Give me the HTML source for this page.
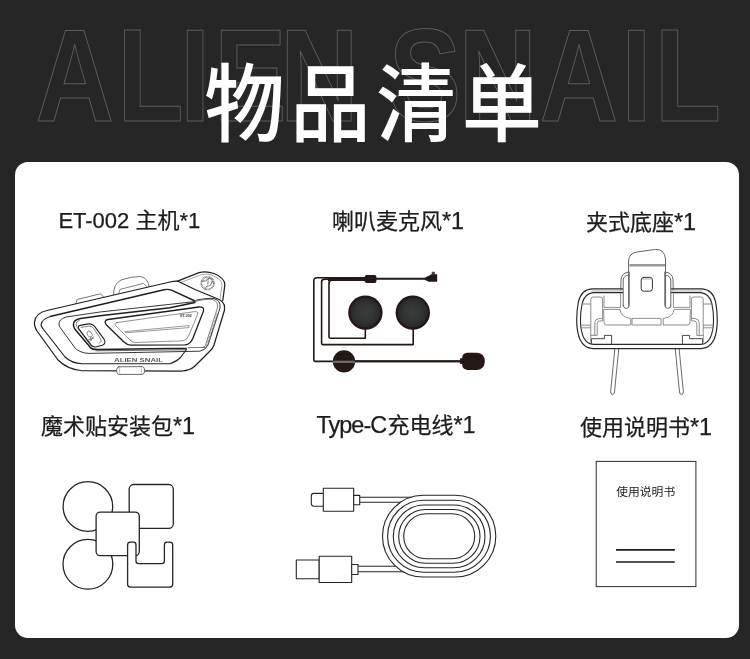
<!DOCTYPE html>
<html lang="zh-CN">
<head>
<meta charset="utf-8">
<title>物品清单</title>
<style>
html,body{margin:0;padding:0;background:#262626;}
body{width:750px;height:659px;overflow:hidden;position:relative;font-family:"Liberation Sans","Noto Sans CJK SC",sans-serif;}
#page{will-change:transform;position:absolute;left:0;top:0;width:750px;height:659px;background:#262626;overflow:hidden;}
#ghost{position:absolute;left:0;top:0;width:750px;height:160px;}
#ghost text{font-family:"Liberation Sans",sans-serif;font-weight:700;font-size:132.6px;fill:none;stroke:#5c5c5c;stroke-width:1.1;stroke-linejoin:round;}
h1{position:absolute;left:0;top:0;margin:0;width:750px;text-align:center;color:#fff;font-family:"Liberation Sans","Noto Sans CJK SC",sans-serif;font-weight:500;font-size:85.4px;line-height:100px;white-space:nowrap;}
#card{position:absolute;left:15px;top:162px;width:724px;height:476px;background:#fff;border-radius:13px;}
.lbl .n{font-size:23.4px;line-height:0;}
.lbl{position:absolute;margin:0;color:#1c1c1c;-webkit-text-stroke:0.25px #1c1c1c;font-size:22px;line-height:30px;white-space:nowrap;font-weight:400;}
#art{position:absolute;left:0;top:0;width:750px;height:659px;}
</style>
</head>
<body>
<div id="page">
  <svg id="ghost" viewBox="0 0 750 160" aria-hidden="true">
    <text transform="scale(0.82 1)" x="43.4 142.9 219.4 261.0 341.4 401.4 474.0 559.3 658.3 757.7 798.6" y="120.7">ALIEN SNAIL</text>
  </svg>
  <h1 style="top:56.4px;left:1.3px;letter-spacing:5.9px;transform:scaleX(0.94);transform-origin:375px 50px">物品清单</h1>
  <div id="card"></div>
  <p class="lbl" id="l1" style="left:58.4px;top:206px">ET-002 主机*1</p>
  <p class="lbl" id="l2" style="left:332px;top:206.5px">喇叭麦克风<span class="n">*1</span></p>
  <p class="lbl" id="l3" style="left:586px;top:208px">夹式底座<span class="n">*1</span></p>
  <p class="lbl" id="l4" style="left:41px;top:411.6px">魔术贴安装包<span class="n">*1</span></p>
  <p class="lbl" id="l5" style="left:316.5px;top:411px"><span class="n" style="letter-spacing:-0.95px;margin-right:1.3px">Type-C</span>充电线<span class="n">*1</span></p>
  <p class="lbl" id="l6" style="left:580px;top:413px">使用说明书<span class="n">*1</span></p>
  <svg id="art" viewBox="0 0 750 659">
    <g id="host" fill="none" stroke="#1f1f1f" stroke-width="1" stroke-linecap="round" stroke-linejoin="round">
    <!-- top tabs -->
    <path d="M75.8 303.6 L77.2 299.4 L100.6 293.8 L103.6 297" stroke="#555" stroke-width="0.8"/>
    <path d="M113.6 294.6 Q113.2 284 121 280 Q131 276.5 140.5 276.4 Q148.5 278.5 149 286.6" stroke="#666" stroke-width="0.9"/>
    <path d="M118.8 293.4 L120 289.4 L143.4 283.4 L147 286.8" stroke="#666" stroke-width="0.8"/>
    <!-- fin -->
    <path d="M177 281.3 L199 272.7 Q206 270.7 214 273.5 Q225 277.8 224.8 285.2 L222.8 300.5" stroke-width="1.25"/>
    <path d="M181 282.4 L201 274.7 Q206 273 212 275.2 Q222 279.2 222 285.4 L220 299.2" stroke="#666" stroke-width="0.6"/>
    <circle cx="207.6" cy="283.2" r="6.3" stroke="#6e6e6e" stroke-width="1.7" stroke-dasharray="0.9 0.55" stroke-linecap="butt"/>
    <path d="M201.6 281.6 L206.4 280.4 Q208.6 276.8 211.6 279.2 Q213.4 283.4 209.4 285.4 L207 286.4 Q205.4 287.6 205 289.4" stroke="#6e6e6e" stroke-width="1.5" stroke-dasharray="0.9 0.5" stroke-linecap="butt"/>
    <path d="M208.6 278 L207.6 284.6" stroke="#6e6e6e" stroke-width="1.3" stroke-dasharray="0.8 0.5" stroke-linecap="butt"/>
    <!-- outer outline -->
    <path d="M47 310.5 L170 282 Q175 281 178 281.3 L195 289.5 L218 299 Q224.5 302 224.5 307 L224.5 310 L214 345 Q212.5 349 210 351 L195 366 Q190 370.5 182 371 L81 370.5 Q67 369 58 360 L37 331 Q34 326 34.5 322 Q35.5 313 47 310.5 Z" stroke-width="1.25"/>
    <!-- second outline -->
    <path d="M51 316.3 L164 289.7 Q168 288.8 172 290.4 L195 301" stroke-width="1.4"/>
    <path d="M51 316.3 Q41.5 319 41 325 Q41.5 327 44 330 L65 357 Q72 363.5 82 363.7 L170 363.7 Q177 361 180.5 357.5 L186.5 349.5" stroke-width="1.15"/>
    <!-- third outline (thin) -->
    <path d="M195 301.6 L100 312 L66 317 Q58.5 319 59 325 Q59.5 327 62 330 L75 348 Q80 353 89 353.4 L200 351.2 Q205.5 350 208 345 L220 308 Q221 300.5 214 298.6 Q209 297.6 196 300.2" stroke="#2e2e2e" stroke-width="0.95"/>
    <path d="M196.4 301 Q208 298.6 212.6 299.6 Q218.6 301.2 217.4 308 L205.4 345.6 Q204.6 347.2 203 347.4" stroke="#444" stroke-width="0.7"/>
    <path d="M217.8 313.6 L207 346" stroke="#666" stroke-width="2.2" stroke-dasharray="0.6 0.8" stroke-linecap="butt"/>
    <!-- button housing (thick) -->
    <path d="M195 302.4 L170 307.8 L100 315.8 L80.6 318.4 Q73 319.8 73.4 325 Q73.6 327.2 75 329.2 L90.4 347.6 Q92.4 349.6 97 349.6 L170 348.4 L186 348.4" stroke-width="1.5"/>
    <path d="M79.4 320.4 Q75.8 321.4 76.2 324.6 Q76.6 326.6 78 328.6 L91.4 346.4" stroke="#333" stroke-width="0.6"/>
    <path d="M96 350.8 L186 349.8" stroke="#444" stroke-width="0.8"/>
    <path d="M188 347.6 L206 347.4" stroke="#444" stroke-width="0.7"/>
    <!-- mic button -->
    <path d="M80.2 325.4 L88.4 323.9 Q92.4 323.6 94.6 326.4 L104.2 339.4 Q106.4 343.4 102.4 345.2 L96.6 346.8 Q93.4 347.6 91 344.8 L79 329.2 Q77.2 326 80.2 325.4 Z" stroke-width="1.1"/>
    <path d="M81.2 327.4 L88.6 326.2 Q91.8 326 93.6 328.4 L100.6 338.8 Q102.2 341.6 99.6 343.2" stroke="#4a4a4a" stroke-width="0.7"/>
    <path d="M87.4 334.6 Q86.2 331.2 89 331 Q91.4 331.4 92.4 335.2 Q92 337.4 89.6 337 Z M90.4 337.4 L91.4 340.4 M88.4 339.8 L93.6 338 M89.6 341.4 L93.2 336.6" stroke="#5a5a5a" stroke-width="0.7"/>
    <!-- window -->
    <path d="M108 319.5 L199 307 Q204.4 306.6 203.5 311 L193 338 Q190.5 344.5 185 344.8 L131 345.2 Q127 345 124 342 L106 324.5 Q103.5 320.5 108 319.5 Z" stroke-width="1.3"/>
    <path d="M117 322.6 L194.6 311.6 Q198.6 311.4 197.6 314.2 L189 335 Q187 340.5 183 340.8 L135 342.5 Q132.5 342.5 130 340 L116 326 Q113.5 323 117 322.6 Z" stroke="#444" stroke-width="0.6"/>
    <path d="M125.2 331.6 L189 325.6 L189 327.6 L126 332.8 Z" stroke="#555" stroke-width="0.6"/>
    <!-- bottom tab -->
    <path d="M118.4 366.8 L142.6 366.6 Q144.6 367 144.6 370.4 Q144.6 374 142.6 374.4 L118.4 374.4 Q116.6 374 116.6 370.6 Q116.6 367.2 118.4 366.8 Z" fill="#fff" stroke="#444" stroke-width="0.8"/>
    <path d="M119.6 367 L119.6 374.2 M141.4 367 L141.4 374.2" stroke="#888" stroke-width="0.5"/>
    <text x="180.2" y="317" textLength="11.6" lengthAdjust="spacingAndGlyphs" font-family="'Liberation Sans',sans-serif" font-weight="700" font-size="4.4" fill="#3a3a3a" stroke="none">ET-002</text>
    <text x="114" y="362" textLength="49" lengthAdjust="spacingAndGlyphs" font-family="'Liberation Sans',sans-serif" font-weight="700" font-size="6" fill="#5a5a5a" stroke="none">ALIEN SNAIL</text>
  </g>
  <defs>
    <radialGradient id="spk" cx="50%" cy="50%" r="50%">
      <stop offset="0" stop-color="#3a3c3c"/>
      <stop offset="0.45" stop-color="#343636"/>
      <stop offset="0.8" stop-color="#2b2b2b"/>
      <stop offset="0.855" stop-color="#2a2625"/>
      <stop offset="0.87" stop-color="#231815"/>
      <stop offset="1" stop-color="#231815"/>
    </radialGradient>
  </defs>
  <g id="speaker" fill="none" stroke="#231815" stroke-width="1.6" stroke-linejoin="round">
    <path d="M329 283 L329 337 Q329 338.3 330.3 338.3 L365.3 338.3 L365.3 329"/>
    <path d="M321.6 282 Q321.6 279.1 324.8 279.1 L332 279.1 M321.6 282 L321.6 343.2 Q321.6 344.6 323 344.6 L413.2 344.6 L413.2 329"/>
    <path d="M313.8 281 Q313.8 277.8 317.2 277.8 L332 277.8 M313.8 281 L313.8 360 Q313.8 361.4 315.2 361.4 L461 361.4"/>
    <path d="M329 283 Q329 280.2 331.8 280.1 L336 280.1"/>
    <path d="M328 278.95 L366 278.95" stroke-width="3.9"/>
    <rect x="364.8" y="275" width="11.6" height="8" rx="1.8" fill="#231815" stroke="none"/>
    <path d="M376 278.8 L426 278.8" stroke-width="1.9"/>
    <rect x="431.8" y="271.7" width="3.1" height="3" rx="0.6" fill="#4c4644" stroke="none"/>
    <path d="M423.4 278.8 L426.6 276.8 L429.6 275.6 L431 274.3 L436.6 274.3 Q437.2 274.3 437.2 275 L437.2 281.8 L428.8 281.8 L426.2 280.6 Z" fill="#231815" stroke="none"/>
    <circle cx="365.4" cy="312.6" r="17.2" fill="url(#spk)" stroke="none"/>
    <circle cx="412.8" cy="312.6" r="17.2" fill="url(#spk)" stroke="none"/>
    <circle cx="344" cy="361.4" r="11.1" fill="#231815" stroke="none"/>
    <path d="M355 361.2 L461 361.2" stroke-width="2.1"/>
    <path d="M333.2 361.8 L354.9 361.8" stroke="#737070" stroke-width="2.2"/>
    <rect x="459.9" y="358.2" width="4" height="5.8" rx="0.8" fill="#231815" stroke="none"/>
    <path d="M467.4 352.8 L477 352.8 Q484.8 353.4 484.8 361.3 Q484.8 369.4 477 369.9 L467.4 369.9 Q462.2 369.6 462.2 364.6 L462.2 358 Q462.2 353 467.4 352.8 Z" fill="#231815" stroke="none"/>
  </g>
  <g id="mount" fill="none" stroke="#2a2a2a" stroke-width="1" stroke-linecap="round" stroke-linejoin="round">
    <!-- legs -->
    <path d="M614.9 348.6 L610.6 391.8 Q610.6 394.6 612.4 394.6 Q614.2 394.6 614.5 392 L618.8 348.6" stroke="#444" stroke-width="0.8"/>
    <path d="M679.1 348.6 L683.4 391.8 Q683.4 394.6 681.6 394.6 Q679.8 394.6 679.5 392 L675.2 348.6" stroke="#444" stroke-width="0.8"/>
    <!-- body outer -->
    <path d="M622.6 288.8 L592 288.8 Q581 289.6 578.4 302 Q576.6 311 576.7 321 Q576.8 332 580 339.6 Q584 348.2 593 348.7 L701 348.7 Q710 348.2 714 339.6 Q717.2 332 717.3 321 Q717.4 311 715.6 302 Q713 289.6 702 288.8 L671.4 288.8" stroke-width="1.2"/>
    <!-- body inner -->
    <path d="M622.6 292.6 L593.4 292.6 Q584.6 293.4 582.2 303.4 Q580.4 311 580.5 321 Q580.6 331 583.6 337.4 Q586.8 344 593.6 344.4 L700.4 344.4 Q707.2 344 710.4 337.4 Q713.4 331 713.5 321 Q713.6 311 711.8 303.4 Q709.4 293.4 700.6 292.6 L671.4 292.6" stroke-width="1.1"/>
    <path d="M592 291 L622 291 M672 291 L702 291" stroke="#999" stroke-width="0.8"/>
    <!-- interior gray -->
    <g stroke="#7a7a7a" stroke-width="0.85">
      <path d="M590.8 342 L590.8 299.4 Q590.8 297 593.2 297 L600.2 297 Q602.6 297 602.6 299.4 L602.6 318.4 L598.6 318.6 Q595.2 319 594.8 322.6 L594.8 335.4 L591 335.4"/>
      <path d="M602.6 318.4 L602.6 320.8 L599.4 321 Q597.4 321.4 597.2 323.4 L597.2 335.4 L594.8 335.4"/>
      <path d="M583 304 L590.6 304 M581 325.2 L590.6 325.2 M581 327.8 L590.6 327.8"/>
      <path d="M604 296 L604 307.4 L620.6 307.4 L620.6 294"/>
      <path d="M604 309.4 L620 309.4 Q620.6 316.6 629.4 318.2 L630.8 318.4 L630.8 325 L606.4 325 Q604 325 604 322.6 Z"/>
      <rect x="632.4" y="318.4" width="28.6" height="6.6"/>
      <path d="M690 309.4 L674 309.4 Q673.4 316.6 664.6 318.2 L663.2 318.4 L663.2 325 L687.6 325 Q690 325 690 322.6 Z"/>
      <path d="M690 296 L690 307.4 L673.4 307.4 L673.4 294"/>
      <path d="M703.2 342 L703.2 299.4 Q703.2 297 700.8 297 L693.8 297 Q691.4 297 691.4 299.4 L691.4 318.4 L695.4 318.6 Q698.8 319 699.2 322.6 L699.2 335.4 L703 335.4"/>
      <path d="M691.4 318.4 L691.4 320.8 L694.6 321 Q696.6 321.4 696.8 323.4 L696.8 335.4 L699.2 335.4"/>
      <path d="M711 304 L703.4 304 M713 325.2 L703.4 325.2 M713 327.8 L703.4 327.8"/>
    </g>
    <!-- notched blocks -->
    <path d="M591.4 343.6 L591.4 338.7 L604.4 338.7 L604.4 335.4 L611.6 335.4 L611.6 343.6" stroke="#333" stroke-width="0.9"/>
    <path d="M702.6 343.6 L702.6 338.7 L689.6 338.7 L689.6 335.4 L682.4 335.4 L682.4 343.6" stroke="#333" stroke-width="0.9"/>
    <!-- ears -->
    <path d="M620.8 290 L621 279.4 Q621.6 273 628.6 272" stroke="#555" stroke-width="0.9"/>
    <path d="M673.2 290 L673 279.4 Q672.4 273 665.4 272" stroke="#555" stroke-width="0.9"/>
    <path d="M623.2 305.4 L623.2 280 Q623.6 275.8 628.4 275 M623.2 305.4 Q623.4 308.4 626.2 308.4 Q629 308.4 629.2 305.4 L629.2 272" stroke="#555" stroke-width="0.9"/>
    <path d="M670.8 305.4 L670.8 280 Q670.4 275.8 665.6 275 M670.8 305.4 Q670.6 308.4 667.8 308.4 Q665 308.4 664.8 305.4 L664.8 272" stroke="#555" stroke-width="0.9"/>
    <!-- tab -->
    <path d="M628.6 306 L628.6 261 Q628.6 253.6 637 252 L655.4 249.4 Q664.4 248.8 665.5 259 L665.6 306" stroke="#666" stroke-width="1"/>
    <path d="M629.4 265.2 L665 265.2" stroke="#9a9a9a" stroke-width="2.4" stroke-linecap="butt"/>
    <rect x="641.2" y="277.4" width="11.2" height="13.8" rx="2.6" stroke="#333" stroke-width="1"/>
    <path d="M642.6 279 L651 279" stroke="#999" stroke-width="0.8"/>
  </g>
  <g id="velcro" fill="#fff" stroke="#2b2322" stroke-width="1.3" stroke-linejoin="round">
    <circle cx="87.9" cy="506.5" r="24.8"/>
    <circle cx="87.9" cy="564.3" r="24.9"/>
    <rect x="129.2" y="484.5" width="44.1" height="43.9" rx="4.6"/>
    <rect x="96.1" y="512.1" width="43.2" height="43.6" rx="4.2"/>
    <path d="M130.4 542.2 L133.4 542.2 Q136 542.2 136 545 L136 561 Q136 563.6 138.8 563.6 L161.6 563.6 Q164.4 563.6 164.4 561 L164.4 545 Q164.4 542.2 167.2 542.2 L169.9 542.2 Q172.7 542.2 172.7 545 L172.7 584.3 Q172.7 587.1 169.9 587.1 L130.4 587.1 Q127.6 587.1 127.6 584.3 L127.6 545 Q127.6 542.2 130.4 542.2 Z"/>
  </g>
  <g id="cable" fill="#fff" stroke="#2b2322" stroke-width="1.1" stroke-linejoin="round">
    <path d="M359.7 497.2 L412 497.2 M359.7 502.2 L402 502.2 M358 566.3 L397 566.3 M358 571.7 L405 571.7" fill="none"/>
    <rect x="382.5" y="495.3" width="113.3" height="81.7" rx="40.85"/>
    <rect x="387.6" y="500.2" width="102.8" height="72" rx="36"/>
    <rect x="393.3" y="505" width="91.7" height="62.8" rx="31.4"/>
    <rect x="398.7" y="509.5" width="81.3" height="53.8" rx="26.9"/>
    <rect x="403.7" y="513.7" width="71" height="45.1" rx="22.55"/>
    <path d="M323.3 493.4 L314 493.4 Q311.3 493.4 311.3 496 L311.3 503.6 Q311.3 506.2 314 506.2 L323.3 506.2"/>
    <rect x="323.3" y="488.3" width="30.4" height="23"/>
    <rect x="353.7" y="495.4" width="6" height="9.3"/>
    <rect x="296.3" y="560" width="22.9" height="18.7"/>
    <rect x="319.2" y="556.2" width="32.5" height="26.3"/>
    <rect x="351.7" y="564.5" width="6.3" height="10"/>
  </g>
  <g id="manual" fill="none" stroke="#332b2a">
    <rect x="596.2" y="461.4" width="99.7" height="125.2" stroke-width="1"/>
    <path d="M616 549.9 L674.8 549.9 M616 562 L674.8 562" stroke="#231815" stroke-width="1.7"/>
    <text x="616.2" y="496" font-family="'Liberation Sans','Noto Sans CJK SC',sans-serif" font-size="11.8" fill="#1f1a18" stroke="none">使用说明书</text>
  </g>

  </svg>
</div>
</body>
</html>
